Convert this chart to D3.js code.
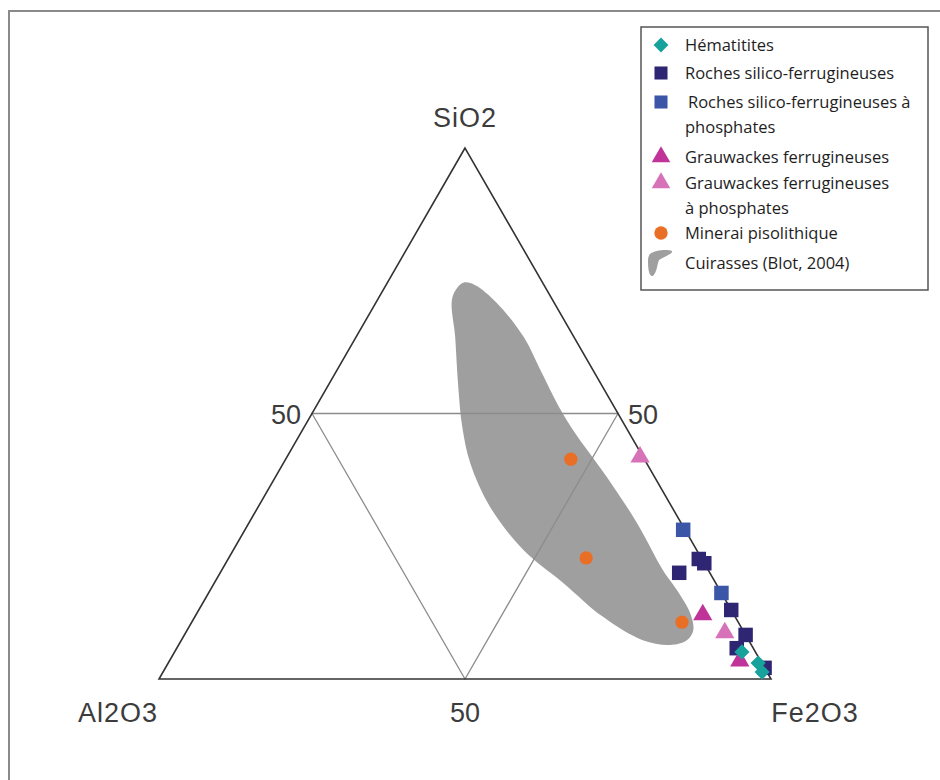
<!DOCTYPE html>
<html><head><meta charset="utf-8">
<script src="https://cdn.jsdelivr.net/npm/d3@7"></script>
<style>html,body{margin:0;padding:0;background:#fff;}svg{display:block;}</style>
</head><body>
<script>
// Compositions as [SiO2, Al2O3, Fe2O3] (%)
const hematitites = [[5.1,2.2,92.7],[3.0,0.6,96.4],[1.3,0.8,97.9]];
const rochesSF = [[22.6,0.5,76.9],[21.8,0,78.2],[20.0,5.0,75.0],[13.0,0,87.0],[8.3,0,91.7],[5.8,2.7,91.5],[2.1,0,97.9]];
const rochesSFphos = [[28.1,0.3,71.6],[16.2,0,83.8]];
const grauwackes = [[12.1,5.1,82.8],[3.4,3.4,93.2]];
const grauwackesPhos = [[41.8,0.5,57.7],[8.7,3.2,88.1]];
const minerai = [[41.4,12.0,46.6],[22.8,18.8,58.4],[10.7,9.2,80.1]];
const cuirasses = [[71.9,16.1,12.0],[74.6,13.0,12.4],[74.2,11.3,14.5],[70.8,9.4,19.8],[64.4,8.2,27.4],[58.0,8.6,33.4],[51.8,9.0,39.2],[46.9,8.9,44.2],[38.0,7.8,54.2],[29.4,7.2,63.4],[20.5,7.4,72.1],[16.8,7.0,76.2],[12.4,7.0,80.6],[9.2,8.1,82.7],[7.3,10.1,82.6],[6.4,13.3,80.3],[7.3,17.3,75.4],[11.7,21.6,66.7],[18.1,24.9,57.0],[24.3,28.3,47.4],[32.4,29.7,37.9],[40.7,28.8,30.5],[47.5,26.7,25.8],[55.0,23.6,21.4],[64.4,19.4,16.2]];
const vertexLabels = ["SiO2","Al2O3","Fe2O3"];
const tickLabel = "50";
const legendLabels = [["Hématitites"],["Roches silico-ferrugineuses"],["Roches silico-ferrugineuses à","phosphates"],["Grauwackes ferrugineuses"],["Grauwackes ferrugineuses","à phosphates"],["Minerai pisolithique"],["Cuirasses (Blot, 2004)"]];

const W = 940, H = 780;
const svg = d3.select("body").append("svg").attr("width", W).attr("height", H);

// frame
svg.append("rect").attr("x",9).attr("y",11).attr("width",1000).attr("height",1000)
  .attr("fill","none").attr("stroke","#8a8a8a").attr("stroke-width",2);

const xL = 159, xR = 771, yB = 679, yT = 148;
const hx = d3.scaleLinear().domain([0,100]).range([xL,xR]);
const vy = d3.scaleLinear().domain([0,100]).range([yB,yT]);
const proj = d => { const s=d[0], f=d[2]; return [hx(f + s/2), vy(s)]; };

const g = svg.append("g");

// cuirasses field
g.append("path").datum(cuirasses)
  .attr("d", d3.line().x(d=>proj(d)[0]).y(d=>proj(d)[1]).curve(d3.curveCatmullRomClosed.alpha(0.5)))
  .attr("fill","#a09fa0").attr("stroke","none");

// 50% inner lines
const mids = [[50,50,0],[50,0,50],[0,50,50]];
const innerLine = d3.line().x(d=>proj(d)[0]).y(d=>proj(d)[1]).curve(d3.curveLinearClosed);
g.append("path").datum(mids).attr("d", innerLine).attr("fill","none").attr("stroke","#8c8c8c").attr("stroke-width",1.3);

// outer triangle
const verts = [[100,0,0],[0,100,0],[0,0,100]];
g.append("path").datum(verts).attr("d", innerLine).attr("fill","none").attr("stroke","#333").attr("stroke-width",1.6).attr("stroke-linejoin","miter");

// labels
const lab = g.append("g").attr("font-family","'Liberation Sans', Arial, sans-serif").attr("font-size",27).attr("fill","#3c3c3c");
lab.append("text").attr("x",proj(verts[0])[0]).attr("y",proj(verts[0])[1]-21).attr("text-anchor","middle").attr("letter-spacing",1).text(vertexLabels[0]);
lab.append("text").attr("x",proj(verts[1])[0]-41).attr("y",proj(verts[1])[1]+43).attr("text-anchor","middle").attr("letter-spacing",1).text(vertexLabels[1]);
lab.append("text").attr("x",proj(verts[2])[0]+44).attr("y",proj(verts[2])[1]+43).attr("text-anchor","middle").attr("letter-spacing",1).text(vertexLabels[2]);
lab.append("text").attr("x",proj(mids[0])[0]-11).attr("y",proj(mids[0])[1]+10).attr("text-anchor","end").text(tickLabel);
lab.append("text").attr("x",proj(mids[1])[0]+10).attr("y",proj(mids[1])[1]+10).attr("text-anchor","start").text(tickLabel);
lab.append("text").attr("x",proj(mids[2])[0]).attr("y",proj(mids[2])[1]+43).attr("text-anchor","middle").text(tickLabel);

// series
const series = [
  {data: rochesSF, color:"#2e2673", type:"square"},
  {data: rochesSFphos, color:"#3b55a7", type:"square"},
  {data: minerai, color:"#ea6f26", type:"circle"},
  {data: grauwackesPhos, color:"#d872b8", type:"triangle"},
  {data: grauwackes, color:"#c0349a", type:"triangle"},
  {data: hematitites, color:"#17a39b", type:"diamond"}
];
function sym(type){
  if(type==="square") return d3.symbol().type(d3.symbolSquare).size(210)();
  if(type==="circle") return d3.symbol().type(d3.symbolCircle).size(140)();
  if(type==="triangle") return d3.symbol().type(d3.symbolTriangle).size(160)();
  if(type==="diamond") return d3.symbol().type(d3.symbolSquare).size(115)();
}
series.forEach(s=>{
  g.append("g").selectAll("path").data(s.data).join("path")
    .attr("d", sym(s.type))
    .attr("transform", d=>{const p=proj(d); return `translate(${p[0]},${p[1]})`+(s.type==="diamond"?" rotate(45)":"");})
    .attr("fill", s.color);
});

// legend
const leg = svg.append("g");
leg.append("rect").attr("x",641).attr("y",27).attr("width",287).attr("height",263)
  .attr("fill","#fff").attr("stroke","#555").attr("stroke-width",1.5);
const legItems = [
  {type:"diamond", color:"#17a39b", y:45},
  {type:"square", color:"#2e2673", y:73},
  {type:"square", color:"#3b55a7", y:102},
  {type:"triangle", color:"#c0349a", y:157},
  {type:"triangle", color:"#d872b8", y:183},
  {type:"circle", color:"#ea6f26", y:233},
  {type:"blob", color:"#a09fa0", y:263}
];
const legSym = t => {
  if(t==="square") return d3.symbol().type(d3.symbolSquare).size(170)();
  if(t==="circle") return d3.symbol().type(d3.symbolCircle).size(140)();
  if(t==="triangle") return d3.symbol().type(d3.symbolTriangle).size(150)();
  if(t==="diamond") return d3.symbol().type(d3.symbolSquare).size(110)();
};
legItems.forEach((it,i)=>{
  if(it.type==="blob"){
    leg.append("path").attr("transform",`translate(661,${it.y})`)
      .attr("d","M-11,-9 C-6,-13 6,-14 11,-12 C12,-9 4,-7 -2,-3 C-4,2 -4,9 -8,13 C-12,14 -13,6 -13,-2 C-13,-6 -12,-8 -11,-9 Z")
      .attr("fill", it.color);
  } else {
    leg.append("path").attr("d", legSym(it.type))
      .attr("transform",`translate(661,${it.y})`+(it.type==="diamond"?" rotate(45)":""))
      .attr("fill", it.color);
  }
  const t = leg.append("text").attr("x",685).attr("y",it.y+6)
    .attr("font-family","'Open Sans', sans-serif").attr("font-size",16.5).attr("fill","#1e1e1e");
  legendLabels[i].forEach((line,j)=>{
    t.append("tspan").attr("x", (i===2 && j===0)?688:685).attr("dy", j===0?0:25).text(line);
  });
});
</script>
</body></html>
